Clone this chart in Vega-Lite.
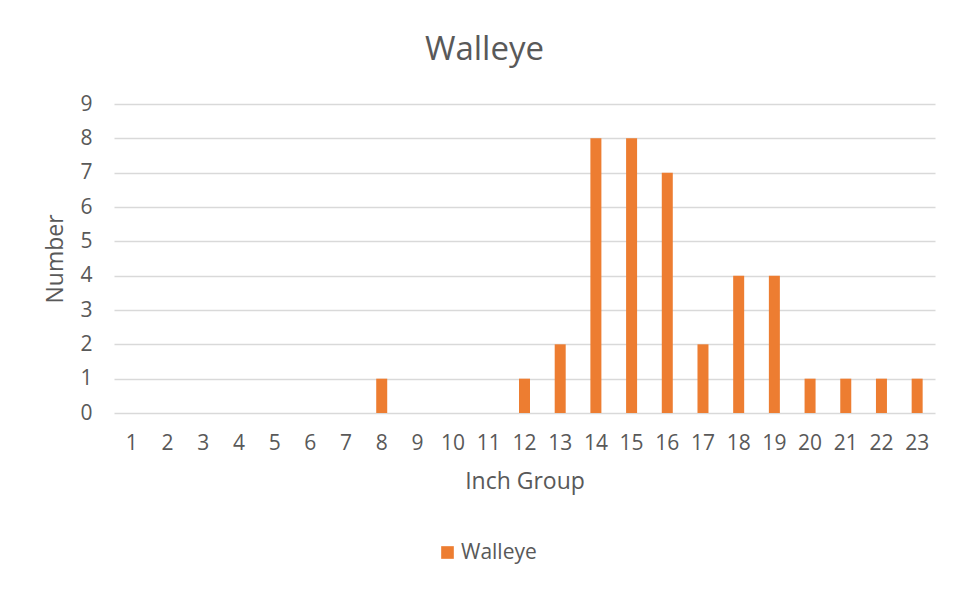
{
  "$schema": "https://vega.github.io/schema/vega-lite/v6.json",
  "width": 821,
  "height": 309,
  "autosize": "none",
  "padding": {"left": 114, "top": 104, "right": 29, "bottom": 177},
  "background": "white",
  "title": {
    "text": "Walleye",
    "anchor": "middle",
    "frame": "group",
    "dx": -40,
    "offset": 0,
    "baseline": "alphabetic",
    "font": "Open Sans",
    "fontSize": 33,
    "fontWeight": "normal",
    "color": "#595959"
  },
  "data": {
    "values": [
      {"inch": 1, "count": 0, "series": "Walleye"},
      {"inch": 2, "count": 0, "series": "Walleye"},
      {"inch": 3, "count": 0, "series": "Walleye"},
      {"inch": 4, "count": 0, "series": "Walleye"},
      {"inch": 5, "count": 0, "series": "Walleye"},
      {"inch": 6, "count": 0, "series": "Walleye"},
      {"inch": 7, "count": 0, "series": "Walleye"},
      {"inch": 8, "count": 1, "series": "Walleye"},
      {"inch": 9, "count": 0, "series": "Walleye"},
      {"inch": 10, "count": 0, "series": "Walleye"},
      {"inch": 11, "count": 0, "series": "Walleye"},
      {"inch": 12, "count": 1, "series": "Walleye"},
      {"inch": 13, "count": 2, "series": "Walleye"},
      {"inch": 14, "count": 8, "series": "Walleye"},
      {"inch": 15, "count": 8, "series": "Walleye"},
      {"inch": 16, "count": 7, "series": "Walleye"},
      {"inch": 17, "count": 2, "series": "Walleye"},
      {"inch": 18, "count": 4, "series": "Walleye"},
      {"inch": 19, "count": 4, "series": "Walleye"},
      {"inch": 20, "count": 1, "series": "Walleye"},
      {"inch": 21, "count": 1, "series": "Walleye"},
      {"inch": 22, "count": 1, "series": "Walleye"},
      {"inch": 23, "count": 1, "series": "Walleye"}
    ]
  },
  "mark": {"type": "bar", "width": 11},
  "encoding": {
    "x": {
      "field": "inch",
      "type": "ordinal",
      "scale": {"paddingInner": 0, "paddingOuter": 0},
      "axis": {
        "title": "Inch Group",
        "labelAngle": 0,
        "domain": false,
        "ticks": false,
        "labelPadding": 19,
        "titlePadding": 17,
        "labelFont": "Open Sans",
        "labelFontSize": 21,
        "labelColor": "#595959",
        "titleFont": "Open Sans",
        "titleFontSize": 23,
        "titleFontWeight": "normal",
        "titleColor": "#595959"
      }
    },
    "y": {
      "field": "count",
      "type": "quantitative",
      "scale": {"domain": [0, 9], "nice": false},
      "axis": {
        "title": "Number",
        "values": [0, 1, 2, 3, 4, 5, 6, 7, 8, 9],
        "domain": false,
        "ticks": false,
        "labelPadding": 22,
        "titlePadding": 12,
        "gridColor": "#d9d9d9",
        "gridWidth": 1.5,
        "labelFont": "Open Sans",
        "labelFontSize": 21,
        "labelColor": "#595959",
        "titleFont": "Open Sans",
        "titleFontSize": 23,
        "titleFontWeight": "normal",
        "titleColor": "#595959"
      }
    },
    "color": {
      "field": "series",
      "type": "nominal",
      "scale": {"range": ["#ED7D31"]},
      "legend": {
        "title": null,
        "orient": "none",
        "legendX": 323,
        "legendY": 438,
        "symbolType": "square",
        "symbolSize": 160,
        "symbolOpacity": 1,
        "labelFont": "Open Sans",
        "labelFontSize": 21,
        "labelColor": "#595959",
        "labelOffset": 3
      }
    }
  },
  "config": {"view": {"stroke": null}}
}
